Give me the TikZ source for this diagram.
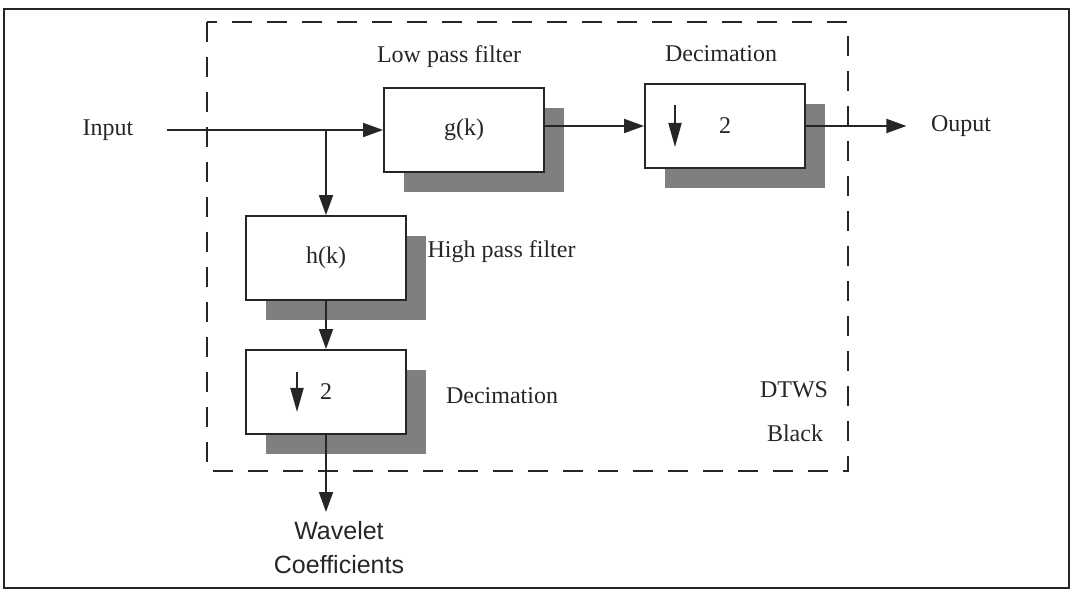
\documentclass[tikz,border=0pt]{standalone}
\usepackage{fontspec}
\setmainfont{Liberation Serif}
\setsansfont{Liberation Sans}
\usetikzlibrary{arrows.meta, positioning, shadows}
\definecolor{lineDark}{HTML}{262626}
\definecolor{shadowGray}{HTML}{7F7F7F}

\begin{document}
\begin{tikzpicture}[
    x=0.5pt, y=-0.5pt, line width=0.9pt, draw=lineDark,
    block/.style={rectangle, draw=lineDark, fill=white,
                minimum width=80pt, minimum height=42pt,
                font=\fontsize{12}{14}\selectfont\color{lineDark},
                drop shadow={shadow xshift=10pt, shadow yshift=-10pt,
                             fill=shadowGray, opacity=1}},
    lbl/.style={font=\fontsize{12}{14}\selectfont\color{lineDark}},
    arr/.style={-{Triangle[length=10pt, width=7pt]}},
    downarr/.style={-{Triangle[length=12pt, width=6.5pt]}},
  ]
    \useasboundingbox (0,0) rectangle (1074,592);
    \draw[line width=1pt] (4,9) rectangle (1069,588);
    \draw[dash pattern=on 10pt off 7.5pt] (207,22) rectangle (848,471);

    \node[lbl] (in) at (108,130) {Input};
    \node[block] (low) at (464,130) {g(k)};
    \node[block] (decl) at (725,126) {2};
    \node[block] (high) at (326,258) {h(k)};
    \node[block] (dech) at (326,392) {2};
    \node[lbl] (out) at (961,126) {Ouput};
    \node[lbl, font=\sffamily\fontsize{12.5}{17}\selectfont\color{lineDark},
          align=center, anchor=north] (wav) at (339,514) {Wavelet\\Coefficients};

    \node[lbl] (lowlbl) at (449,57) {Low pass filter};
    \node[lbl] (decllbl) at (721,54) {Decimation};
    \node[lbl, anchor=west] (highlbl) at (420,252) {High pass filter};
    \node[lbl] (dechlbl) at (502,396) {Decimation};
    \node[lbl] (dtws) at (794,390) {DTWS};
    \node[lbl] (black) at (795,433) {Black};

    \coordinate (fork) at (high.north |- low.west);
    \draw[shorten <=13pt] (in.east) -- (fork);
    \draw[arr] (fork) -- (low.west);
    \draw[arr] (fork) -- (high.north);
    \draw[arr] (low.east |- decl.west) -- (decl.west);
    \draw[arr, shorten >=8.5pt] (decl.east) -- (out.west);
    \draw[arr] (high.south) -- (dech.north);
    \draw[arr, shorten >=1pt] (dech.south) -- (dech.south |- wav.north);

    \draw[downarr] ([xshift=-25pt, yshift=10.5pt]decl.center) -- ++(0pt,-21pt);
    \draw[downarr] ([xshift=-14.5pt, yshift=10pt]dech.center) -- ++(0pt,-20pt);
  \end{tikzpicture}
\end{document}
